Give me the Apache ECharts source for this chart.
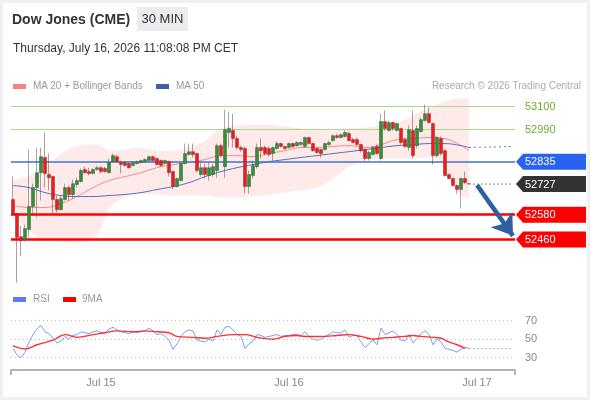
<!DOCTYPE html>
<html>
<head>
<meta charset="utf-8">
<script src="https://cdn.jsdelivr.net/npm/echarts@6/dist/echarts.min.js"></script>
<style>
html,body{margin:0;padding:0;width:590px;height:400px;overflow:hidden;background:#eef0f3;font-family:"Liberation Sans",Arial,sans-serif;}
#panel{position:absolute;left:3px;top:3px;width:584px;height:394px;background:#fff;}
#chart{position:absolute;left:0;top:0;width:590px;height:400px;}
.t{position:absolute;white-space:nowrap;}
#title{left:12px;top:12px;font-size:14px;line-height:15px;font-weight:bold;color:#333;}
#tf{left:137px;top:7px;width:51px;height:24px;line-height:24px;text-align:center;font-size:13px;color:#333;background:#eaecef;}
#date{left:13px;top:41px;font-size:12px;line-height:14px;color:#333;}
.lg{font-size:10px;line-height:12px;color:#999;}
.sw{position:absolute;width:13px;height:5px;}
</style>
</head>
<body>
<div id="panel"></div>
<div id="chart"></div>
<div class="t" id="title">Dow Jones (CME)</div>
<div class="t" id="tf">30 MIN</div>
<div class="t" id="date">Thursday, July 16, 2026 11:08:08 PM CET</div>
<div class="sw" style="left:13px;top:84px;background:#ff8080;"></div>
<div class="t lg" style="left:33px;top:80px;">MA 20 + Bollinger Bands</div>
<div class="sw" style="left:156px;top:84px;background:#3d5fa5;"></div>
<div class="t lg" style="left:176px;top:80px;">MA 50</div>
<div class="t lg" style="right:9px;top:80px;color:#aaa;">Research © 2026 Trading Central</div>
<div class="sw" style="left:13px;top:297px;background:#5b7fe6;"></div>
<div class="t lg" style="left:33px;top:293px;">RSI</div>
<div class="sw" style="left:63px;top:297px;background:#ff0000;"></div>
<div class="t lg" style="left:82px;top:293px;">9MA</div>
<script>
// ---------- data ----------
const slotCount = 126;
const categories = Array.from({length: slotCount}, (_, i) => 'b' + i);
const xLabelText = ['Jul 15', 'Jul 16', 'Jul 17'];
const xLabelAt = [22, 69, 116];

// [open, close, low, high]
const candles = [
[52653,52585,52580,52763],[52585,52470,52253,52590],[52474,52455,52383,52527],[52460,52513,52450,52532],
[52508,52619,52470,52893],[52619,52710,52575,52729],[52710,52782,52566,52903],[52782,52859,52648,52903],
[52855,52778,52710,52975],[52773,52758,52696,52874],[52763,52653,52585,52768],[52653,52604,52590,52672],
[52604,52657,52600,52672],[52653,52710,52648,52729],[52710,52677,52648,52720],[52677,52729,52657,52749],
[52725,52744,52710,52758],[52739,52792,52734,52802],[52797,52782,52778,52811],[52787,52778,52768,52806],
[52778,52797,52773,52802],[52797,52806,52792,52816],[52806,52787,52778,52811],[52802,52787,52782,52811],
[52782,52831,52778,52850],[52835,52864,52831,52874],[52859,52835,52831,52869],[52831,52821,52778,52840],
[52831,52816,52811,52835],[52826,52806,52802,52831],[52816,52831,52811,52835],[52826,52835,52821,52840],
[52831,52840,52826,52845],[52835,52845,52831,52850],[52840,52859,52835,52864],[52859,52840,52835,52864],
[52850,52821,52816,52855],[52840,52816,52811,52845],[52826,52840,52821,52845],[52835,52782,52763,52840],
[52787,52715,52701,52792],[52715,52754,52710,52758],[52744,52826,52739,52831],[52826,52874,52821,52922],
[52869,52883,52864,52922],[52883,52869,52855,52922],[52874,52792,52782,52879],[52773,52806,52763,52831],
[52806,52773,52754,52826],[52768,52806,52744,52831],[52773,52811,52763,52826],[52792,52912,52758,52922],
[52912,52864,52855,52922],[52811,52989,52758,53086],[52975,52994,52903,53076],[52985,52946,52903,53066],
[52946,52903,52893,52960],[52903,52893,52883,52912],[52898,52715,52681,52908],[52715,52773,52681,52792],
[52768,52816,52754,52840],[52811,52903,52802,52922],[52903,52888,52850,52946],[52903,52874,52864,52912],
[52898,52869,52859,52908],[52874,52903,52840,52908],[52898,52922,52893,52932],[52922,52908,52903,52927],
[52908,52898,52893,52912],[52903,52922,52898,52927],[52922,52908,52903,52927],[52912,52927,52908,52932],
[52917,52927,52912,52932],[52908,52951,52903,52956],[52951,52922,52917,52956],[52922,52888,52883,52927],
[52898,52879,52874,52903],[52893,52874,52855,52898],[52893,52922,52888,52927],[52917,52927,52912,52936],
[52936,52960,52932,52965],[52960,52951,52946,52970],[52951,52965,52946,52970],[52956,52975,52951,52985],
[52970,52936,52932,52980],[52941,52927,52922,52951],[52941,52917,52912,52951],[52917,52888,52879,52922],
[52893,52850,52840,52898],[52850,52879,52840,52888],[52869,52903,52864,52912],[52908,52874,52869,52917],
[52850,53028,52840,53066],[53028,52994,52985,53081],[52985,53023,52980,53033],[53023,52994,52985,53028],
[52985,53018,52980,53023],[52994,52927,52917,52999],[52941,52908,52903,52951],[52903,52989,52888,53009],
[52985,52864,52850,53081],[52912,52994,52898,53009],[52980,53037,52975,53047],[53033,53066,53028,53110],
[53066,53023,53018,53095],[53018,52864,52821,53023],[52864,52951,52855,52960],[52946,52874,52864,52956],
[52888,52768,52763,52898],[52773,52754,52749,52778],[52754,52720,52715,52758],[52720,52701,52681,52725],
[52701,52754,52609,52758],[52754,52734,52729,52787],[52729,52727,52725,52732]
];

const bandAt = [0,4,8,12,16,20,22,24,28,32,36,40,44,48,52,56,60,64,68,72,76,80,84,88,92,96,100,104,106,108,110,112,114];
const bandUpper = [52744,52768,52802,52874,52912,52917,52912,52888,52893,52903,52888,52888,52903,52936,52994,53009,53013,53013,53004,52994,52989,52985,52994,52999,53009,53023,53057,53095,53110,53124,53134,53139,53139];
const bandLower = [52575,52503,52455,52450,52446,52465,52513,52609,52662,52681,52677,52672,52672,52672,52662,52662,52667,52677,52686,52696,52710,52754,52811,52840,52850,52850,52850,52855,52850,52782,52720,52672,52657];

const maAt = [0,4,8,12,16,20,24,28,32,36,40,44,48,52,56,60,64,68,72,76,80,84,88,92,96,100,104,108,112,114];
const ma20 = [52624,52614,52614,52633,52667,52710,52744,52763,52782,52806,52821,52831,52845,52864,52864,52859,52874,52888,52903,52903,52908,52912,52903,52917,52941,52946,52951,52946,52912,52888];
const ma50 = [52720,52710,52686,52672,52667,52667,52672,52677,52686,52701,52715,52734,52763,52787,52806,52821,52835,52845,52855,52864,52874,52883,52893,52903,52912,52917,52922,52922,52912,52903];
const ma50Projection = [[114,52903],[125,52908]];

const levelPrices = [53100, 52990, 52835, 52727, 52580, 52460];
const levelKinds = ['res', 'res', 'pivot', 'last', 'sup', 'sup'];
const arrowFrom = [116, 52722];
const arrowTo = [125, 52478];

const rsi = [40,33,30,36,47,55,61,65,58,56, 51,46,48,53,50,54,55,58,57,56,
58,59,57,57,61,63,60,58,57,56, 58,57,58,59,62,59,55,56,53,49,
39,45,53,58,60,59,49,48,47,50, 48,60,55,63,64,60,55,53,40,45,
48,55,54,52,53,54,55,53,54,54, 55,55,54,58,53,50,49,50,53,55,
58,57,57,60,52,54,54,47,41,45, 49,44,62,55,57,59,55,49,48,55,
46,51,56,59,55,44,50,47,40,39, 38,36,39,41,40];
const rsiProjection = [[114,40],[125,40]];
const rsiMaAt = [0,3,6,10,13,16,20,23,26,30,33,36,39,41,45,48,51,55,58,61,65,68,71,73,77,81,84,87,90,92,95,98,100,102,105,107,109,111,113];
const rsiMa = [43,39.5,44,49,55,52,55,57,59,58,59,58,57,53,52,51,53,55,55,52,50,53,54,53,53,54,55,53,50,51,52,53,54,53,52,51,47,44,40];
const rsiLevels = [30, 50, 70];

// ---------- styles ----------
const FONT = '"Liberation Sans", Arial, sans-serif';
const levelStyle = {
  res:   {line:'#a8d88a', width:1, text:'#66b02f'},
  pivot: {line:'#3f6fd6', width:1.5, tag:'#2962f0'},
  last:  {tag:'#333333'},
  sup:   {line:'#ff0000', width:2.5, tag:'#ff0000'}
};

const pairs = (xs, ys) => xs.map((x, k) => [x, ys[k]]);

const chart = echarts.init(document.getElementById('chart'));
const option = {
  animation: false,
  backgroundColor: 'transparent',
  grid: [
    {left: 11, right: 75, top: 85.8, height: 207.8},
    {left: 11, right: 75, top: 311.45, height: 55.5}
  ],
  xAxis: [
    {type:'category', gridIndex:0, data:categories, boundaryGap:true, show:false},
    {type:'category', gridIndex:1, data:categories, boundaryGap:true, offset:3,
     axisLine:{show:true, lineStyle:{color:'#b4b4b4', width:2}},
     axisTick:{show:true, interval:(i) => i === 0, length:5, lineStyle:{color:'#b4b4b4', width:2}},
     axisLabel:{interval:(i) => xLabelAt.includes(i),
       formatter:(v, i) => { const k = xLabelAt.indexOf(i); return k >= 0 ? xLabelText[k] : ''; },
       color:'#888', fontSize:11, margin:8, fontFamily:FONT},
     splitLine:{show:false}}
  ],
  yAxis: [
    {type:'value', gridIndex:0, min:52200, max:53200, show:false, scale:true},
    {type:'value', gridIndex:1, min:20, max:80, interval:10, position:'right',
     axisLine:{show:false}, axisTick:{show:false}, splitLine:{show:false},
     axisLabel:{formatter:(v) => rsiLevels.includes(v) ? String(v) : '', color:'#888', fontSize:11, margin:10,
       fontFamily:FONT}}
  ],
  series: [
    {name:'bbBase', type:'line', xAxisIndex:0, yAxisIndex:0, stack:'bb', smooth:0.4, symbol:'none', silent:true, z:1,
     lineStyle:{width:0, opacity:0}, data: pairs(bandAt, bandLower)},
    {name:'bbFill', type:'line', xAxisIndex:0, yAxisIndex:0, stack:'bb', smooth:0.4, symbol:'none', silent:true, z:1,
     lineStyle:{width:0, opacity:0}, areaStyle:{color:'rgba(255,130,130,0.24)'},
     data: bandAt.map((x, k) => [x, bandUpper[k] - bandLower[k]])},
    {name:'MA20', type:'line', xAxisIndex:0, yAxisIndex:0, smooth:0.4, symbol:'none', silent:true, z:2,
     lineStyle:{color:'#ff8686', width:1}, data: pairs(maAt, ma20)},
    {name:'MA50', type:'line', xAxisIndex:0, yAxisIndex:0, smooth:0.4, symbol:'none', silent:true, z:2,
     lineStyle:{color:'#4d74bd', width:1}, data: pairs(maAt, ma50)},
    {name:'price', type:'candlestick', xAxisIndex:0, yAxisIndex:0, barWidth:3.5, z:5, silent:true,
     itemStyle:{color:'#2f942f', color0:'#f21a1a', borderColor:'#46524a', borderColor0:'#7a3030', borderWidth:0.5},
     data: candles,
     markLine:{silent:true, symbol:'none', label:{show:false}, animation:false,
       data: levelPrices.map((p, k) => ({kind:levelKinds[k], p})).filter(o => o.kind !== 'last').map(o => ({
         yAxis:o.p, lineStyle:{color:levelStyle[o.kind].line, width:levelStyle[o.kind].width, type:'solid'}}))}},
    {name:'ma50proj', type:'line', xAxisIndex:0, yAxisIndex:0, symbol:'none', silent:true, z:2,
     lineStyle:{color:'#5a80c8', width:1, type:[2,3]}, data: ma50Projection},
    {name:'lastLine', type:'line', xAxisIndex:0, yAxisIndex:0, symbol:'none', silent:true, z:3,
     lineStyle:{color:'#888', width:1, type:[2,2]},
     data: [[115, levelPrices[3]], [125, levelPrices[3]]],
     markLine:{silent:true, symbol:['none','arrow'], symbolSize:[20,20], label:{show:false}, z:10,
       lineStyle:{color:'#2f5f9f', width:4.5, type:'solid'},
       data:[[{coord:[categories[arrowFrom[0]], arrowFrom[1]]}, {coord:[categories[arrowTo[0]], arrowTo[1]]}]]}},
    {name:'RSI', type:'line', xAxisIndex:1, yAxisIndex:1, symbol:'none', silent:true, z:3,
     lineStyle:{color:'#7e9df0', width:1}, data: rsi,
     markLine:{silent:true, symbol:'none', label:{show:false},
       lineStyle:{color:'#bbbbbb', width:1, type:[1,3]},
       data: rsiLevels.map(v => ({yAxis:v}))}},
    {name:'RSIproj', type:'line', xAxisIndex:1, yAxisIndex:1, symbol:'none', silent:true, z:3,
     lineStyle:{color:'#a9bcf3', width:1, type:[2,2]}, data: rsiProjection},
    {name:'9MA', type:'line', xAxisIndex:1, yAxisIndex:1, smooth:0.4, symbol:'none', silent:true, z:4,
     lineStyle:{color:'#ff3030', width:1.4}, data: pairs(rsiMaAt, rsiMa)}
  ]
};
chart.setOption(option);

// price tags at the right, positioned through the price axis
const graphics = [];
levelPrices.forEach((p, k) => {
  const y = chart.convertToPixel({yAxisIndex:0}, p);
  const st = levelStyle[levelKinds[k]];
  if (st.tag) {
    graphics.push({type:'polygon', silent:true, z:20,
      shape:{points:[[516,y],[523,y-8],[586,y-8],[586,y+8],[523,y+8]]}, style:{fill:st.tag}});
    graphics.push({type:'text', silent:true, z:21, x:525, y:y + 0.5,
      style:{text:String(p), fill:'#fff', font:'11px ' + FONT, textVerticalAlign:'middle', textAlign:'left'}});
  } else {
    graphics.push({type:'text', silent:true, z:21, x:525, y:y + 0.5,
      style:{text:String(p), fill:st.text, font:'11px ' + FONT, textVerticalAlign:'middle', textAlign:'left'}});
  }
});
// right end tick of the time axis
const gridRect = chart.getModel().getComponent('grid', 1).coordinateSystem.getRect();
const axisY = gridRect.y + gridRect.height + 3;
graphics.push({type:'line', silent:true, z:20,
  shape:{x1:gridRect.x + gridRect.width, y1:axisY, x2:gridRect.x + gridRect.width, y2:axisY + 5},
  style:{stroke:'#b4b4b4', lineWidth:2}});
chart.setOption({graphic: graphics});
</script>
</body>
</html>
